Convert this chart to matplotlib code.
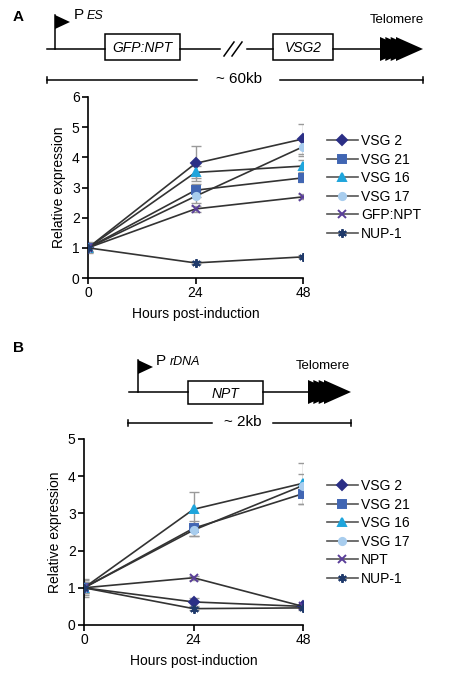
import numpy as np
import matplotlib
matplotlib.use('Agg')
import matplotlib.pyplot as plt
from matplotlib.patches import Polygon, Rectangle

plt.rcParams['font.family'] = ['Liberation Sans', 'DejaVu Sans']
plt.rcParams['font.size'] = 9.5

# ---- data ----
hours = [0, 24, 48]

names_a = ['VSG 2', 'VSG 21', 'VSG 16', 'VSG 17', 'GFP:NPT', 'NUP-1']
vsg2_a = [1.0, 3.80, 4.61]
vsg21_a = [1.0, 2.91, 3.32]
vsg16_a = [1.0, 3.50, 3.71]
vsg17_a = [1.0, 2.71, 4.35]
gfp_a = [1.0, 2.29, 2.69]
nup1_a = [1.0, 0.50, 0.70]
err_vsg2_a = [0.18, 0.58, 0.50]
err_vsg21_a = [0.15, 0.22, 0.15]
err_vsg16_a = [0.15, 0.20, 0.20]
err_vsg17_a = [0.15, 0.22, 0.30]
err_gfp_a = [0.10, 0.10, 0.08]
err_nup1_a = [0.10, 0.05, 0.05]

names_b = ['VSG 2', 'VSG 21', 'VSG 16', 'VSG 17', 'NPT', 'NUP-1']
vsg2_b = [1.0, 0.62, 0.50]
vsg21_b = [1.0, 2.60, 3.53]
vsg16_b = [1.0, 3.11, 3.81]
vsg17_b = [1.0, 2.55, 3.75]
npt_b = [1.0, 1.27, 0.50]
nup1_b = [1.0, 0.44, 0.46]
err_vsg2_b = [0.25, 0.10, 0.05]
err_vsg21_b = [0.20, 0.20, 0.27]
err_vsg16_b = [0.15, 0.47, 0.55]
err_vsg17_b = [0.15, 0.15, 0.30]
err_npt_b = [0.10, 0.05, 0.05]
err_nup1_b = [0.10, 0.05, 0.05]

# marker styles per series position
markers = ['D', 's', '^', 'o', 'x', (6, 2, 0)]
colors = ['#2b2f86', '#4166b3', '#1fa5dc', '#a8cdee', '#5a3f99', '#1f3a6b']
sizes = [4.6, 5.2, 5.8, 5.2, 5.2, 6.2]

W, H = 467, 688
fig = plt.figure(figsize=(W / 100, H / 100), dpi=100)


def plot_panel(rect, ymax, series, errs, names, leg_y):
    ax = fig.add_axes(rect)
    for i, (vals, e) in enumerate(zip(series, errs)):
        ax.errorbar(hours, vals, yerr=e, fmt='none', ecolor='#9a9a9a',
                    elinewidth=1.0, capsize=3.5, capthick=1.0, zorder=2)
    for i, vals in enumerate(series):
        ax.plot(hours, vals, color='#333333', lw=1.2,
                marker=markers[i], ms=sizes[i], mfc=colors[i],
                mec=colors[i], mew=1.4, zorder=3)
    ax.set_xlim(0, 48)
    ax.set_ylim(0, ymax)
    ax.set_xticks(hours)
    ax.set_yticks(range(0, ymax + 1))
    ax.spines['top'].set_visible(False)
    ax.spines['right'].set_visible(False)
    ax.spines['left'].set_linewidth(1.2)
    ax.spines['bottom'].set_linewidth(1.2)
    ax.tick_params(length=4, width=1.2, labelsize=10, pad=2)
    ax.set_ylabel('Relative expression', fontsize=10, labelpad=4)
    ax.set_xlabel('Hours post-induction', fontsize=10, labelpad=5)
    ax.patch.set_alpha(0)
    # legend with grey lines
    leg_handles = []
    for i in range(len(names)):
        lh, = ax.plot([], [], color='#555555', lw=1.2, marker=markers[i],
                      ms=sizes[i], mfc=colors[i], mec=colors[i], mew=1.4)
        leg_handles.append(lh)
    ax.legend(leg_handles, names, loc='upper left',
              bbox_to_anchor=(327 / W, 1 - leg_y / H),
              bbox_transform=fig.transFigure, frameon=False,
              handlelength=2.2, handletextpad=0.25, labelspacing=0.33,
              fontsize=10, borderaxespad=0, borderpad=0)
    return ax


plot_panel([88 / W, 1 - 278 / H, 215 / W, 181 / H], 6,
           [vsg2_a, vsg21_a, vsg16_a, vsg17_a, gfp_a, nup1_a],
           [err_vsg2_a, err_vsg21_a, err_vsg16_a, err_vsg17_a, err_gfp_a, err_nup1_a],
           names_a, 134)
plot_panel([84 / W, 1 - 625 / H, 219 / W, 186 / H], 5,
           [vsg2_b, vsg21_b, vsg16_b, vsg17_b, npt_b, nup1_b],
           [err_vsg2_b, err_vsg21_b, err_vsg16_b, err_vsg17_b, err_npt_b, err_nup1_b],
           names_b, 479)

# ---- schematic diagrams (pixel coordinates) ----
d = fig.add_axes([0, 0, 1, 1])
d.set_xlim(0, W)
d.set_ylim(H, 0)
d.axis('off')
lw = 1.1


def flag(x, y0, y1):
    d.plot([x, x], [y0, y1], color='k', lw=lw)
    d.add_patch(Polygon([[x, y1], [x + 15, y1 + 7], [x, y1 + 14]],
                        closed=True, color='k', lw=0))


def telomere(x0, x1, y, h=12):
    w = 27
    step = (x1 - x0 - w) / 3
    for k in range(4):
        xs = x0 + k * step
        d.add_patch(Polygon([[xs, y - h], [xs + w, y], [xs, y + h]],
                            closed=True, color='k', lw=0))


def box(x0, x1, y0, y1, label):
    d.add_patch(Rectangle((x0, y0), x1 - x0, y1 - y0, fill=False,
                          ec='k', lw=lw))
    d.text((x0 + x1) / 2, (y0 + y1) / 2 + 1, label, style='italic',
           ha='center', va='center', fontsize=10)


def scalebar(x0, x1, y, g0, g1, label):
    d.plot([x0, g0], [y, y], color='k', lw=lw)
    d.plot([g1, x1], [y, y], color='k', lw=lw)
    d.plot([x0, x0], [y - 3, y + 3], color='k', lw=lw)
    d.plot([x1, x1], [y - 3, y + 3], color='k', lw=lw)
    d.text((g0 + g1) / 2, y - 1, label, ha='center', va='center', fontsize=11)


# panel A diagram
d.text(13, 17, 'A', fontweight='bold', fontsize=11, ha='left', va='center')
d.plot([47, 105], [49, 49], color='k', lw=lw)
flag(55, 49, 15)
d.text(74, 15, 'P', fontsize=11, va='center')
d.text(87, 16, 'ES', fontsize=9, style='italic', va='center')
box(105, 180, 34, 60, 'GFP:NPT')
d.plot([180, 220], [49, 49], color='k', lw=lw)
d.plot([224, 234], [56, 42], color='k', lw=lw)
d.plot([232, 242], [56, 42], color='k', lw=lw)
d.plot([247, 273], [49, 49], color='k', lw=lw)
box(273, 333, 34, 60, 'VSG2')
d.plot([333, 381], [49, 49], color='k', lw=lw)
telomere(380, 423, 49)
d.text(397, 20, 'Telomere', fontsize=9.5, ha='center', va='center')
scalebar(47, 423, 80, 197, 280, '~ 60kb')

# panel B diagram
d.text(13, 348, 'B', fontweight='bold', fontsize=11, ha='left', va='center')
d.plot([129, 188], [392, 392], color='k', lw=lw)
flag(138, 392, 360)
d.text(156, 361, 'P', fontsize=11, va='center')
d.text(170, 362, 'rDNA', fontsize=9, style='italic', va='center')
box(188, 263, 381, 404, 'NPT')
d.plot([263, 309], [392, 392], color='k', lw=lw)
telomere(308, 351, 392)
d.text(323, 366, 'Telomere', fontsize=9.5, ha='center', va='center')
scalebar(128, 351, 423, 212, 273, '~ 2kb')

fig.savefig('out.png', dpi=100)
